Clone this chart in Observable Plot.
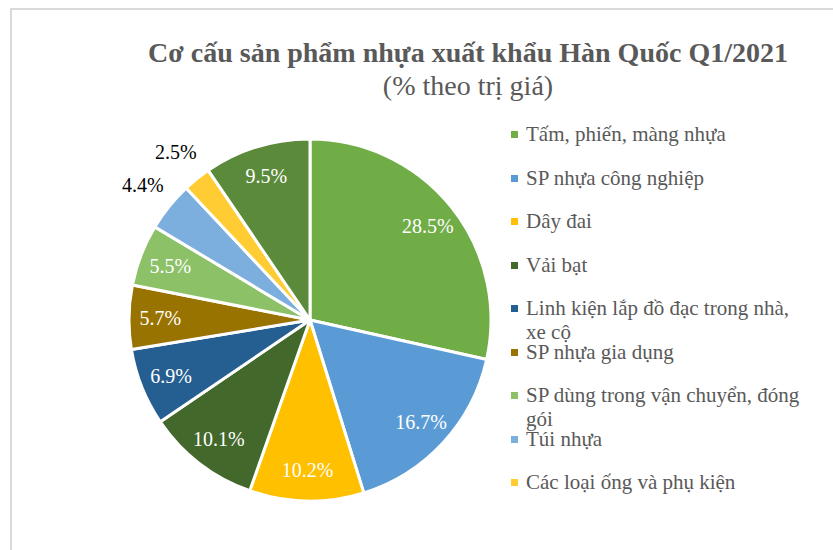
<!DOCTYPE html>
<html>
<head>
<meta charset="utf-8">
<script src="https://cdn.jsdelivr.net/npm/d3@7"></script>
<script src="https://cdn.jsdelivr.net/npm/@observablehq/plot@0.6"></script>
<style>
  html, body { margin: 0; padding: 0; background: #fff; }
  #wrap { position: relative; width: 833px; height: 550px; overflow: hidden;
          font-family: "Liberation Serif", "Times New Roman", serif; }
  #frame { position: absolute; left: 10px; top: 8px; width: 900px; height: 600px;
           border: 2px solid #d9d9d9; box-sizing: border-box; }
  #title { position: absolute; left: 0; top: 36px; width: 936px; text-align: center;
           font-size: 28px; line-height: 33px; color: #595959; }
  #title b { font-weight: bold; }
  #chart { position: absolute; left: 0; top: 0; }
  .leg { position: absolute; left: 511px; width: 300px; font-size: 21px; line-height: 24px; color: #595959; }
  .leg .sw { position: absolute; left: 0; top: 9px; width: 7px; height: 7px; }
  .leg .tx { position: absolute; left: 15px; top: 0; width: 285px; }
</style>
</head>
<body>
<div id="wrap">
  <div id="frame"></div>
  <div id="title"><b>Cơ cấu sản phẩm nhựa xuất khẩu Hàn Quốc Q1/2021</b><br>(% theo trị giá)</div>
  <div id="chart"></div>
</div>
<script>
const categories = [
  "Tấm, phiến, màng nhựa",
  "SP nhựa công nghiệp",
  "Dây đai",
  "Vải bạt",
  "Linh kiện lắp đồ đạc trong nhà, xe cộ",
  "SP nhựa gia dụng",
  "SP dùng trong vận chuyển, đóng gói",
  "Túi nhựa",
  "Các loại ống và phụ kiện",
  "Khác"
];
const values = [28.5, 16.7, 10.2, 10.1, 6.9, 5.7, 5.5, 4.4, 2.5, 9.5];
const colors = ["#70AD47", "#5B9BD5", "#FFC000", "#43682B", "#255E91", "#997300", "#8CC168", "#7CAFDD", "#FFCD33", "#5A8A3A"];
const legendCount = 9; // the reference legend shows only the first nine entries

const data = categories.map((c, i) => ({category: c, value: values[i], color: colors[i]}));
const arcs = d3.pie().sort(null).value(d => d.value)(data);
const slices = arcs.map(a => {
  const mid = (a.startAngle + a.endAngle) / 2;
  const inside = a.data.value >= 5;
  const lr = inside ? 0.83 : 1.19;
  return {
    ...a.data,
    start: a.startAngle,
    end: a.endAngle,
    lx: Math.sin(mid) * lr,
    ly: Math.cos(mid) * lr,
    inside,
    label: a.data.value.toFixed(1) + "%"
  };
});

const pieMark = Plot.dot(slices, {
  x: "lx", y: "ly",
  render(index, scales) {
    const cx = scales.x(0), cy = scales.y(0);
    const r = scales.x(1) - scales.x(0);
    const arc = d3.arc().innerRadius(0).outerRadius(r);
    const g = d3.create("svg:g").attr("transform", `translate(${cx},${cy})`);
    g.selectAll("path")
      .data(Array.from(index, i => slices[i]))
      .join("path")
      .attr("d", d => arc({startAngle: d.start, endAngle: d.end}))
      .attr("fill", d => d.color)
      .attr("stroke", "#fff")
      .attr("stroke-width", 3)
      .attr("stroke-linejoin", "round");
    return g.node();
  }
});

const chart = Plot.plot({
  width: 833,
  height: 550,
  marginLeft: 129,
  marginRight: 342,
  marginTop: 139,
  marginBottom: 49,
  style: {background: "transparent", fontFamily: "Liberation Serif"},
  x: {domain: [-1, 1], axis: null},
  y: {domain: [-1, 1], axis: null},
  marks: [
    pieMark,
    Plot.text(slices.filter(d => d.inside), {x: "lx", y: "ly", text: "label", fill: "#ffffff", fontSize: 20, fontFamily: "Liberation Serif"}),
    Plot.text(slices.filter(d => !d.inside), {x: "lx", y: "ly", text: "label", fill: "#000000", fontSize: 20, fontFamily: "Liberation Serif"})
  ]
});
document.getElementById("chart").appendChild(chart);

const wrap = document.getElementById("wrap");
categories.slice(0, legendCount).forEach((c, i) => {
  const item = document.createElement("div");
  item.className = "leg";
  item.style.top = (122 + i * 43.5) + "px";
  const sw = document.createElement("div");
  sw.className = "sw";
  sw.style.background = colors[i];
  const tx = document.createElement("div");
  tx.className = "tx";
  tx.textContent = c;
  item.appendChild(sw);
  item.appendChild(tx);
  wrap.appendChild(item);
});
</script>
</body>
</html>
